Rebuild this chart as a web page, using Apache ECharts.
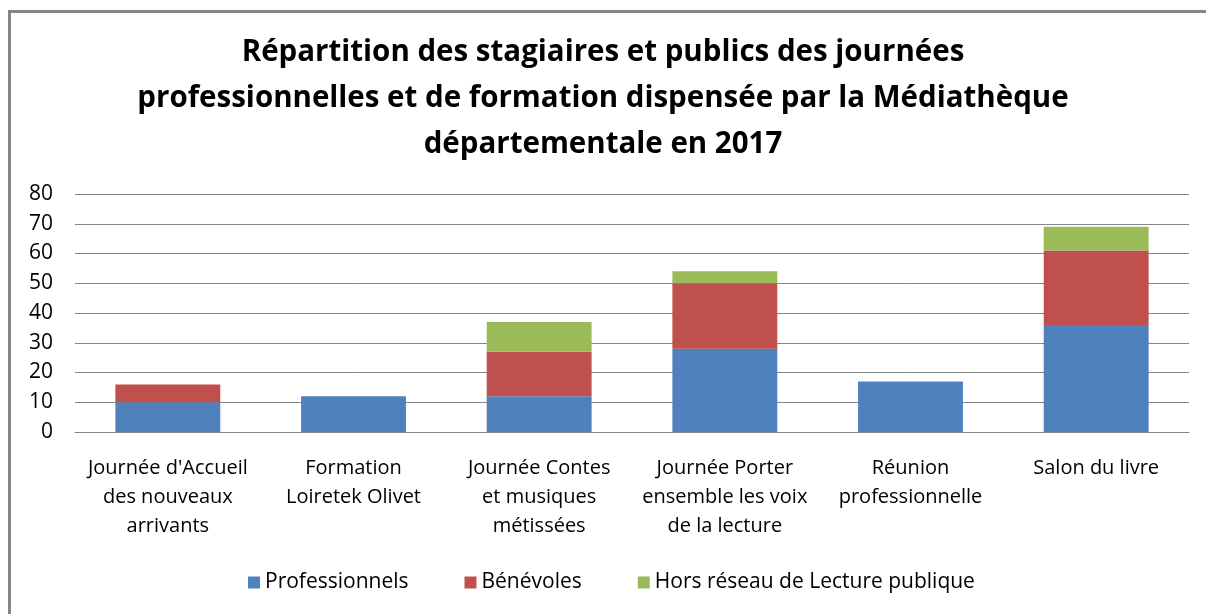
<!DOCTYPE html>
<html>
<head>
<meta charset="utf-8">
<script src="https://cdn.jsdelivr.net/npm/echarts@6/dist/echarts.min.js"></script>
<style>
  html, body { margin: 0; padding: 0; background: #fff; }
  #frame { position: absolute; left: 8px; top: 10px; width: 1200px; height: 610px;
           border-top: 3px solid #868686; border-left: 3px solid #868686; }
  #main { position: absolute; left: 0; top: 0; width: 1206px; height: 614px; }
</style>
</head>
<body>
<div id="frame"></div>
<div id="main"></div>
<script>
// catégories (axe x)
var categories = [
  "Journée d'Accueil\ndes nouveaux\narrivants",
  "Formation\nLoiretek Olivet",
  "Journée Contes\net musiques\nmétissées",
  "Journée Porter\nensemble les voix\nde la lecture",
  "Réunion\nprofessionnelle",
  "Salon du livre"
];
var seriesNames = ['Professionnels', 'Bénévoles', 'Hors réseau de Lecture publique'];
var professionnels = [10, 12, 12, 28, 17, 36];
var benevoles = [6, 0, 15, 22, 0, 25];
var horsReseau = [0, 0, 10, 4, 0, 8];

var colors = ['#4f81bd', '#c0504d', '#9bbb59'];
var font = 'Open Sans';

function serie(name, data, color) {
  return {
    name: name,
    type: 'bar',
    stack: 'total',
    barWidth: '56.5%',
    itemStyle: { color: color },
    data: data
  };
}

var myChart = echarts.init(document.getElementById('main'));
var option = {
  animation: false,
  title: {
    text: 'Répartition des stagiaires et publics des journées\nprofessionnelles et de formation dispensée par la Médiathèque\ndépartementale en 2017',
    left: 'center',
    top: 25,
    textStyle: {
      fontFamily: font,
      fontWeight: 'bold',
      fontSize: 29.5,
      lineHeight: 46,
      color: '#000'
    }
  },
  legend: {
    top: 567,
    left: 243,
    itemWidth: 12,
    itemHeight: 12,
    itemGap: 56,
    icon: 'rect',
    textStyle: { fontFamily: font, fontSize: 21, color: '#000' },
    data: seriesNames
  },
  grid: {
    left: 75,
    right: 17,
    top: 194,
    bottom: 182
  },
  xAxis: {
    type: 'category',
    data: categories,
    axisLine: { lineStyle: { color: '#868686', width: 1 } },
    axisTick: { show: false },
    axisLabel: {
      interval: 0,
      fontFamily: font,
      fontSize: 20,
      lineHeight: 29,
      color: '#000',
      margin: 22
    }
  },
  yAxis: {
    type: 'value',
    min: 0,
    max: 80,
    interval: 10,
    axisLine: { show: false },
    axisTick: { show: false },
    splitLine: { lineStyle: { color: '#868686', width: 1 } },
    axisLabel: { fontFamily: font, fontSize: 21, color: '#000', margin: 22 }
  },
  series: [
    serie(seriesNames[0], professionnels, colors[0]),
    serie(seriesNames[1], benevoles, colors[1]),
    serie(seriesNames[2], horsReseau, colors[2])
  ]
};
myChart.setOption(option);
</script>
</body>
</html>
